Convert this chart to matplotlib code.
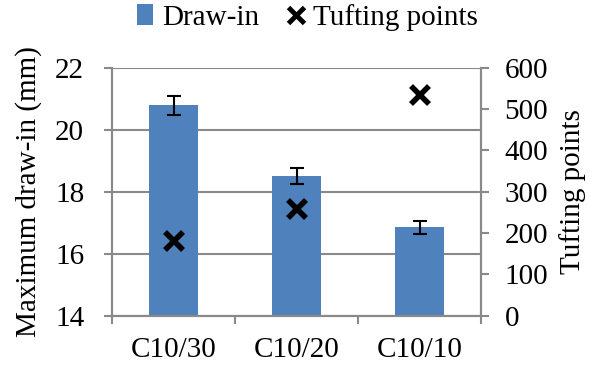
import matplotlib.pyplot as plt
from matplotlib.lines import Line2D
from matplotlib.patches import Patch

plt.rcParams['font.family'] = ['Liberation Serif', 'DejaVu Serif']

categories = ["C10/30", "C10/20", "C10/10"]
draw_in = [20.78, 18.5, 16.85]
draw_in_err = [0.3, 0.25, 0.2]
tufting = [181, 257, 533]

grey = '#898989'
fs = 21

fig = plt.figure(figsize=(6.01, 3.72), dpi=100)
ax = fig.add_axes([0.1864, 0.1513, 0.614, 0.667])
ax2 = ax.twinx()

x = list(range(len(categories)))
ax.bar(x, draw_in, width=0.4, color='#4F81BD', zorder=3)
ax.errorbar(x, draw_in, yerr=draw_in_err, fmt='none', ecolor='black',
            elinewidth=1.5, capsize=5, capthick=1.5, zorder=4)
ax2.plot(x, tufting, linestyle='none', marker='x', color='black',
         markersize=13, markeredgewidth=4, zorder=5)

ax.set_xlim(-0.5, 2.5)
ax.set_ylim(14, 22)
ax.set_yticks([14, 16, 18, 20, 22])
ax2.set_ylim(0, 600)
ax2.set_yticks(range(0, 601, 100))

ax.set_xticks([-0.5, 0.5, 1.5, 2.5])
ax.set_xticklabels([])
ax.set_xticks(x, minor=True)
ax.set_xticklabels(categories, minor=True)
ax.tick_params(axis='x', which='minor', length=0, pad=15, labelsize=fs)
ax.tick_params(axis='x', which='major', length=6, width=1.5, color=grey, direction='out')

ax.yaxis.grid(True, color=grey, linewidth=1.5, zorder=0)
ax.set_axisbelow(True)
ax.tick_params(axis='y', length=6, width=1.5, color=grey, labelsize=fs, pad=14)
ax2.tick_params(axis='y', length=6, width=1.5, color=grey, labelsize=fs, pad=11)

for a in (ax, ax2):
    for s in a.spines.values():
        s.set_color(grey)
        s.set_linewidth(1.5)
ax.spines['top'].set_visible(False)
ax2.spines['top'].set_visible(False)

ax.set_ylabel("Maximum draw-in (mm)", fontsize=fs, labelpad=9)
ax2.set_ylabel("Tufting points", fontsize=fs, labelpad=8)

handles = [Patch(facecolor='#4F81BD', label='Draw-in'),
           Line2D([], [], linestyle='none', marker='x', color='black',
                  markersize=11, markeredgewidth=3.5, label='Tufting points')]
fig.legend(handles=handles, loc='upper center', bbox_to_anchor=(0.512, 1.06),
           ncol=2, frameon=False, fontsize=fs, handlelength=0.55,
           handletextpad=0.3, columnspacing=1.0)

fig.savefig('out.png', dpi=100)
